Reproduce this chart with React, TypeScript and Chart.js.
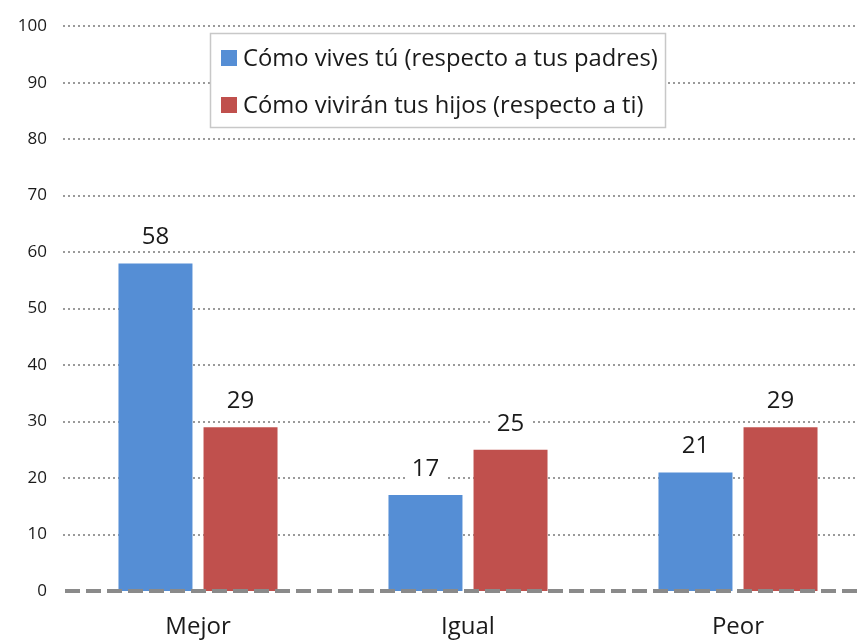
import React, { useEffect, useRef } from "react";
import { Chart, registerables } from "chart.js";

Chart.register(...registerables);

const categories = ["Mejor", "Igual", "Peor"];
const seriesNames = [
  "Cómo vives tú (respecto a tus padres)",
  "Cómo vivirán tus hijos (respecto a ti)",
];
const vivesValues = [58, 17, 21];
const hijosValues = [29, 25, 29];
const yTickValues = [0, 10, 20, 30, 40, 50, 60, 70, 80, 90, 100];

const BLUE = "#558ED5";
const RED = "#C0504D";
const FONT = '"Open Sans", "Noto Sans", sans-serif';
const TEXT = "#1a1a1a";

const decorPlugin = {
  id: "decor",
  beforeDatasetsDraw(chart: any) {
    const { ctx } = chart;
    const y = chart.scales.y;
    const left = chart.chartArea.left;
    ctx.save();
    ctx.strokeStyle = "#9a9a9a";
    ctx.lineWidth = 2;
    ctx.setLineDash([2, 3]);
    yTickValues.forEach((v) => {
      if (v === 0) return;
      const py = Math.round(y.getPixelForValue(v));
      ctx.beginPath();
      ctx.moveTo(left, py);
      ctx.lineTo(chart.width, py);
      ctx.stroke();
    });
    ctx.restore();
  },
  afterDatasetsDraw(chart: any) {
    const { ctx } = chart;
    const y = chart.scales.y;
    ctx.save();
    // zero line
    const y0 = Math.round(y.getPixelForValue(0));
    ctx.strokeStyle = "#8a8a8a";
    ctx.lineWidth = 4;
    ctx.setLineDash([15, 6]);
    ctx.beginPath();
    ctx.moveTo(chart.chartArea.left + 2, y0);
    ctx.lineTo(chart.width, y0);
    ctx.stroke();
    ctx.setLineDash([]);

    // data labels
    ctx.font = `24px ${FONT}`;
    ctx.textAlign = "center";
    ctx.textBaseline = "middle";
    chart.data.datasets.forEach((ds: any, di: number) => {
      const meta = chart.getDatasetMeta(di);
      meta.data.forEach((bar: any, i: number) => {
        const txt = String(ds.data[i]);
        const w = ctx.measureText(txt).width;
        const cy = bar.y - 26;
        ctx.fillStyle = "#ffffff";
        ctx.fillRect(bar.x - w / 2 - 6, cy - 12, w + 12, 24);
        ctx.fillStyle = TEXT;
        ctx.fillText(txt, bar.x, cy);
      });
    });

    // legend
    const bx = 210.5, by = 33.5, bw = 455, bh = 94;
    ctx.fillStyle = "#ffffff";
    ctx.fillRect(bx, by, bw, bh);
    ctx.strokeStyle = "#c8c8c8";
    ctx.lineWidth = 1.5;
    ctx.strokeRect(bx, by, bw, bh);
    const colors = [BLUE, RED];
    const rows = [58, 105];
    let size = 22;
    ctx.font = `${size}px ${FONT}`;
    const w0 = ctx.measureText(seriesNames[0]).width;
    size = Math.min(25, (size * 415) / w0);
    ctx.font = `${size}px ${FONT}`;
    ctx.textAlign = "left";
    ctx.textBaseline = "middle";
    seriesNames.forEach((name, i) => {
      ctx.fillStyle = colors[i];
      ctx.fillRect(221, rows[i] - 8, 16, 16);
      ctx.fillStyle = TEXT;
      ctx.fillText(name, 243, rows[i] + 1);
    });
    ctx.restore();
  },
};

export default function App() {
  const ref = useRef<HTMLCanvasElement | null>(null);
  useEffect(() => {
    if (!ref.current) return;
    const chart = new Chart(ref.current, {
      type: "bar",
      data: {
        labels: categories,
        datasets: [
          {
            label: seriesNames[0],
            data: vivesValues,
            backgroundColor: BLUE,
            categoryPercentage: 0.63,
            barPercentage: 0.87,
          },
          {
            label: seriesNames[1],
            data: hijosValues,
            backgroundColor: RED,
            categoryPercentage: 0.63,
            barPercentage: 0.87,
          },
        ],
      },
      options: {
        responsive: false,
        animation: false,
        layout: { padding: { top: 22, right: 7, left: 0, bottom: 0 } },
        plugins: {
          legend: { display: false },
          tooltip: { enabled: false },
        },
        scales: {
          x: {
            grid: { display: false, drawTicks: false },
            border: { display: false },
            ticks: {
              font: { family: FONT, size: 24 },
              color: TEXT,
              padding: 22,
            },
            afterFit(s: any) {
              s.height = 49;
            },
          },
          y: {
            min: 0,
            max: 100,
            grid: { display: false, drawTicks: false },
            border: { display: false },
            ticks: {
              stepSize: 10,
              font: { family: FONT, size: 17 },
              color: TEXT,
              padding: 16,
            },
            afterFit(s: any) {
              s.width = 63;
            },
          },
        },
      },
      plugins: [decorPlugin],
    });
    return () => chart.destroy();
  }, []);
  return (
    <div
      style={{
        position: "absolute",
        left: 0,
        top: 0,
        width: 857,
        height: 640,
        overflow: "hidden",
        background: "#fff",
      }}
    >
      <canvas ref={ref} width={880} height={640} style={{ display: "block" }} />
    </div>
  );
}
